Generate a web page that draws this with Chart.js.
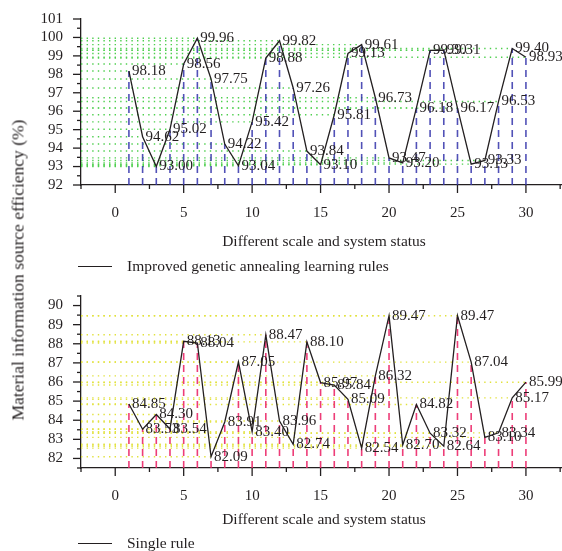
<!DOCTYPE html>
<html>
<head>
<meta charset="utf-8">
<script src="https://cdn.jsdelivr.net/npm/chart.js@4.4.0/dist/chart.umd.min.js"></script>
<style>
  html, body { margin: 0; padding: 0; background: #fff; overflow: hidden; }
  body { width: 562px; height: 551px; position: relative; font-family: "Liberation Serif", serif; color: #231f20; }
  canvas { position: absolute; left: 0; }
  #yTitle {
    position: absolute; left: 18px; top: 270px;
    transform: translate(-50%, -50%) rotate(-90deg);
    white-space: nowrap; font-size: 17.5px;
  }
  .legend { position: absolute; left: 78px; font-size: 15.5px; display: flex; align-items: center; white-space: nowrap; }
  .legend .swatch { width: 34px; height: 0; border-top: 1.3px solid #231f20; margin-right: 15px; }
</style>
</head>
<body>
<canvas id="improvedChart" width="570" height="251" style="top:0"></canvas>
<canvas id="singleChart" width="570" height="300" style="top:251px"></canvas>
<div id="yTitle">Material information source efficiency (%)</div>
<div class="legend" style="top:257px"><span class="swatch"></span>Improved genetic annealing learning rules</div>
<div class="legend" style="top:534px"><span class="swatch"></span>Single rule</div>

<script>
// Trạng thái hệ thống (trục x)
const systemStatus = [1, 2, 3, 4, 5, 6, 7, 8, 9, 10, 11, 12, 13, 14, 15,
                      16, 17, 18, 19, 20, 21, 22, 23, 24, 25, 26, 27, 28, 29, 30];

// Hiệu suất - luật ủ gen cải tiến
const improvedRule = [98.18, 94.62, 93.00, 95.02, 98.56, 99.96, 97.75, 94.22, 93.04, 95.42,
                      98.88, 99.82, 97.26, 93.84, 93.10, 95.81, 99.13, 99.61, 96.73, 93.47,
                      93.20, 96.18, 99.30, 99.31, 96.17, 93.13, 93.33, 96.53, 99.40, 98.93];

// Hiệu suất - luật đơn
const singleRule = [84.85, 83.53, 84.30, 83.54, 88.13, 88.04, 82.09, 83.91, 87.05, 83.40,
                    88.47, 83.96, 82.74, 88.10, 85.97, 85.84, 85.09, 82.54, 86.32, 89.47,
                    82.70, 84.82, 83.32, 82.64, 89.47, 87.04, 83.10, 83.34, 85.17, 85.99];

// Vạch chia trục
const xMajorTicks = [0, 5, 10, 15, 20, 25, 30];
const xMinorTicks = [-2.5, 2.5, 7.5, 12.5, 17.5, 22.5, 27.5, 32.5];
const improvedYTicks = [92, 93, 94, 95, 96, 97, 98, 99, 100, 101];
const singleYTicks = [82, 83, 84, 85, 86, 87, 88, 89, 90];

const TEXT = '#231f20';
const FONT = 'Liberation Serif';

// Vẽ đường gióng ngang (chấm) và dọc (gạch) từ mỗi điểm về trục
const dropLines = {
    id: 'dropLines',
    beforeDatasetsDraw(chart, args, opts) {
        const ctx = chart.ctx;
        const xs = chart.scales.x, ys = chart.scales.y;
        const pts = chart.data.datasets[0].data;
        ctx.save();
        ctx.lineWidth = 1.4;
        ctx.setLineDash([1.4, 4.2]);
        ctx.strokeStyle = opts.hColor;
        pts.forEach(p => {
            const py = ys.getPixelForValue(p.y);
            ctx.beginPath();
            ctx.moveTo(xs.left, py);
            ctx.lineTo(xs.getPixelForValue(p.x), py);
            ctx.stroke();
        });
        ctx.lineWidth = 1.6;
        ctx.setLineDash([7, 5]);
        ctx.strokeStyle = opts.vColor;
        pts.forEach(p => {
            const px = xs.getPixelForValue(p.x);
            ctx.beginPath();
            ctx.moveTo(px, ys.bottom);
            ctx.lineTo(px, ys.getPixelForValue(p.y));
            ctx.stroke();
        });
        ctx.restore();
    }
};

// Nhãn giá trị bên phải mỗi điểm
const valueLabels = {
    id: 'valueLabels',
    afterDatasetsDraw(chart) {
        const ctx = chart.ctx;
        const xs = chart.scales.x, ys = chart.scales.y;
        ctx.save();
        ctx.font = '15px "' + FONT + '"';
        ctx.fillStyle = TEXT;
        ctx.textAlign = 'left';
        ctx.textBaseline = 'middle';
        chart.data.datasets[0].data.forEach(p => {
            ctx.fillText(p.y.toFixed(2), xs.getPixelForValue(p.x) + 3, ys.getPixelForValue(p.y));
        });
        ctx.restore();
    }
};

// Vạch chia chính / phụ hướng ra ngoài
const axisTicks = {
    id: 'axisTicks',
    afterDraw(chart, args, opts) {
        const ctx = chart.ctx;
        const xs = chart.scales.x, ys = chart.scales.y;
        ctx.save();
        ctx.strokeStyle = TEXT;
        ctx.lineWidth = 1.3;
        const tick = (x1, y1, x2, y2) => {
            ctx.beginPath(); ctx.moveTo(x1, y1); ctx.lineTo(x2, y2); ctx.stroke();
        };
        xMajorTicks.forEach(v => { const x = xs.getPixelForValue(v); tick(x, xs.top, x, xs.top + 8); });
        xMinorTicks.forEach(v => { const x = xs.getPixelForValue(v); tick(x, xs.top, x, xs.top + 4); });
        opts.yTicks.forEach(v => {
            const y = ys.getPixelForValue(v);
            tick(ys.right - 8, y, ys.right, y);
            const yh = ys.getPixelForValue(v + 0.5);
            if (yh >= ys.top - 0.5) tick(ys.right - 4, yh, ys.right, yh);
        });
        const yb = ys.getPixelForValue(opts.yTicks[0] - 0.5);
        if (yb <= ys.bottom + 0.5) tick(ys.right - 4, yb, ys.right, yb);
        ctx.restore();
    }
};

function makePanel(canvasId, values, cfg) {
    const points = systemStatus.map((x, i) => ({ x: x, y: values[i] }));
    return new Chart(document.getElementById(canvasId), {
        type: 'scatter',
        data: {
            datasets: [{
                data: points,
                showLine: true,
                borderColor: TEXT,
                borderWidth: 1.3,
                pointRadius: 0,
                tension: 0
            }]
        },
        options: {
            responsive: false,
            animation: false,
            layout: { padding: cfg.padding },
            scales: {
                x: {
                    type: 'linear',
                    min: -2.5,
                    max: 33,
                    afterBuildTicks: axis => { axis.ticks = xMajorTicks.map(v => ({ value: v })); },
                    afterFit: scale => { scale.height = cfg.xHeight; },
                    grid: { display: false },
                    border: { color: TEXT, width: 1.3 },
                    ticks: { autoSkip: false, maxRotation: 0, padding: 11, color: TEXT, font: { family: FONT, size: 15 } },
                    title: {
                        display: true,
                        text: 'Different scale and system status',
                        color: TEXT,
                        font: { family: FONT, size: 15.5 },
                        padding: 0
                    }
                },
                y: {
                    min: cfg.yMin,
                    max: cfg.yMax,
                    afterBuildTicks: axis => { axis.ticks = cfg.yTicks.map(v => ({ value: v })); },
                    afterFit: scale => { scale.width = 81; },
                    grid: { display: false },
                    border: { color: TEXT, width: 1.3 },
                    ticks: { autoSkip: false, padding: 10, color: TEXT, font: { family: FONT, size: 15 } }
                }
            },
            plugins: {
                legend: { display: false },
                tooltip: { enabled: false },
                dropLines: { hColor: cfg.hColor, vColor: cfg.vColor },
                axisTicks: { yTicks: cfg.yTicks }
            }
        },
        plugins: [dropLines, valueLabels, axisTicks]
    });
}

makePanel('improvedChart', improvedRule, {
    yMin: 92, yMax: 101, yTicks: improvedYTicks,
    padding: { top: 15, left: 0, right: 3, bottom: 0 },
    xHeight: 66,
    hColor: '#4fcf4f',
    vColor: 'rgba(50, 50, 170, 0.85)'
});

makePanel('singleChart', singleRule, {
    yMin: 81.5, yMax: 90.5, yTicks: singleYTicks,
    padding: { top: 45, left: 0, right: 3, bottom: 22 },
    xHeight: 61,
    hColor: '#e2e23c',
    vColor: 'rgba(235, 40, 105, 0.9)'
});
</script>
</body>
</html>
